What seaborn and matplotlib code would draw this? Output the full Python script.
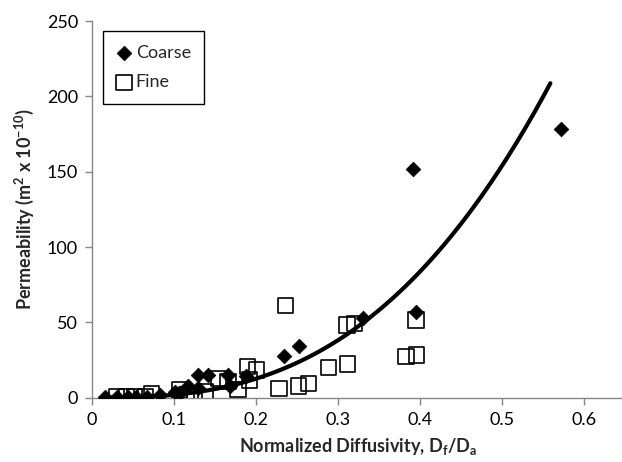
import numpy as np
import pandas as pd
import matplotlib
matplotlib.use('Agg')
import matplotlib.pyplot as plt
import seaborn as sns

# values
coarse_x = [0.016, 0.030, 0.044, 0.054, 0.067, 0.083, 0.101, 0.107, 0.117, 0.129,
            0.129, 0.142, 0.166, 0.168, 0.188, 0.234, 0.252, 0.330, 0.391, 0.395, 0.572]
coarse_y = [0.3, 0.3, 0.5, 0.5, 0.7, 1.8, 4.0, 3.0, 7.8, 6.2,
            15.0, 15.0, 15.0, 7.8, 14.4, 27.7, 34.3, 52.7, 151.9, 57.1, 178.2]

fine_x = [0.030, 0.042, 0.052, 0.065, 0.073, 0.107, 0.115, 0.125, 0.138, 0.154,
          0.166, 0.178, 0.190, 0.192, 0.201, 0.228, 0.236, 0.252, 0.264, 0.288,
          0.311, 0.312, 0.320, 0.383, 0.395, 0.396]
fine_y = [0.5, 0.5, 0.5, 0.8, 2.9, 5.1, 2.0, 2.9, 4.0, 12.9,
          10.6, 5.6, 20.6, 11.8, 18.4, 6.2, 61.1, 7.8, 9.6, 20.2,
          48.3, 22.4, 49.4, 27.2, 51.6, 28.3]

# power-law trendline (y = a * x^b) as drawn in the reference
trend_a = 1021
trend_b = 2.73
trend_range = (0.016, 0.559)

coarse = pd.DataFrame({'x': coarse_x, 'y': coarse_y})
fine = pd.DataFrame({'x': fine_x, 'y': fine_y})
tx = np.linspace(trend_range[0], trend_range[1], 200)
trend = pd.DataFrame({'x': tx, 'y': trend_a * tx ** trend_b})

sns.set_style('ticks')
plt.rcParams['font.family'] = ['Lato', 'DejaVu Sans']
plt.rcParams['mathtext.default'] = 'regular'

fig = plt.figure(figsize=(6.22, 4.62), dpi=100)
ax = fig.add_axes([92 / 622, 1 - 397.7 / 462, 533 / 622, 376.7 / 462])

sns.scatterplot(data=coarse, x='x', y='y', marker='D', s=56, color='black',
                edgecolor='black', linewidth=0.5, ax=ax, label='Coarse', zorder=3)
sns.scatterplot(data=fine, x='x', y='y', marker='s', s=121, facecolor='none',
                edgecolor='black', linewidth=1.2, ax=ax, label='Fine', zorder=4)
sns.lineplot(data=trend, x='x', y='y', color='black', linewidth=3, ax=ax,
             zorder=5, sort=False)

ax.set_xlim(0, 0.65)
ax.set_ylim(0, 250)
ax.set_xticks([0, 0.1, 0.2, 0.3, 0.4, 0.5, 0.6])
ax.set_xticklabels(['0', '0.1', '0.2', '0.3', '0.4', '0.5', '0.6'])
ax.set_yticks([0, 50, 100, 150, 200, 250])

ax.set_xlabel('Normalized Diffusivity, D$_f$/D$_a$', fontsize=13,
              fontweight='bold', labelpad=6)
ax.set_ylabel('Permeability (m$^2$ x 10$^{-10}$)', fontsize=13,
              fontweight='bold', labelpad=8)

for side in ['top', 'right']:
    ax.spines[side].set_visible(False)
for side in ['left', 'bottom']:
    ax.spines[side].set_color('#868686')
    ax.spines[side].set_linewidth(1.0)
ax.tick_params(axis='both', colors='#868686', labelcolor='black',
               labelsize=13, length=5, width=1, direction='out', pad=5)

leg = ax.legend(loc='upper left', bbox_to_anchor=(0.021, 0.973), borderaxespad=0,
                fancybox=False, edgecolor='black', fontsize=13, handletextpad=0.25,
                handlelength=0.8, labelspacing=0.75, borderpad=0.75, framealpha=1)
leg.get_frame().set_linewidth(1.0)

fig.savefig('out.png', dpi=100)
